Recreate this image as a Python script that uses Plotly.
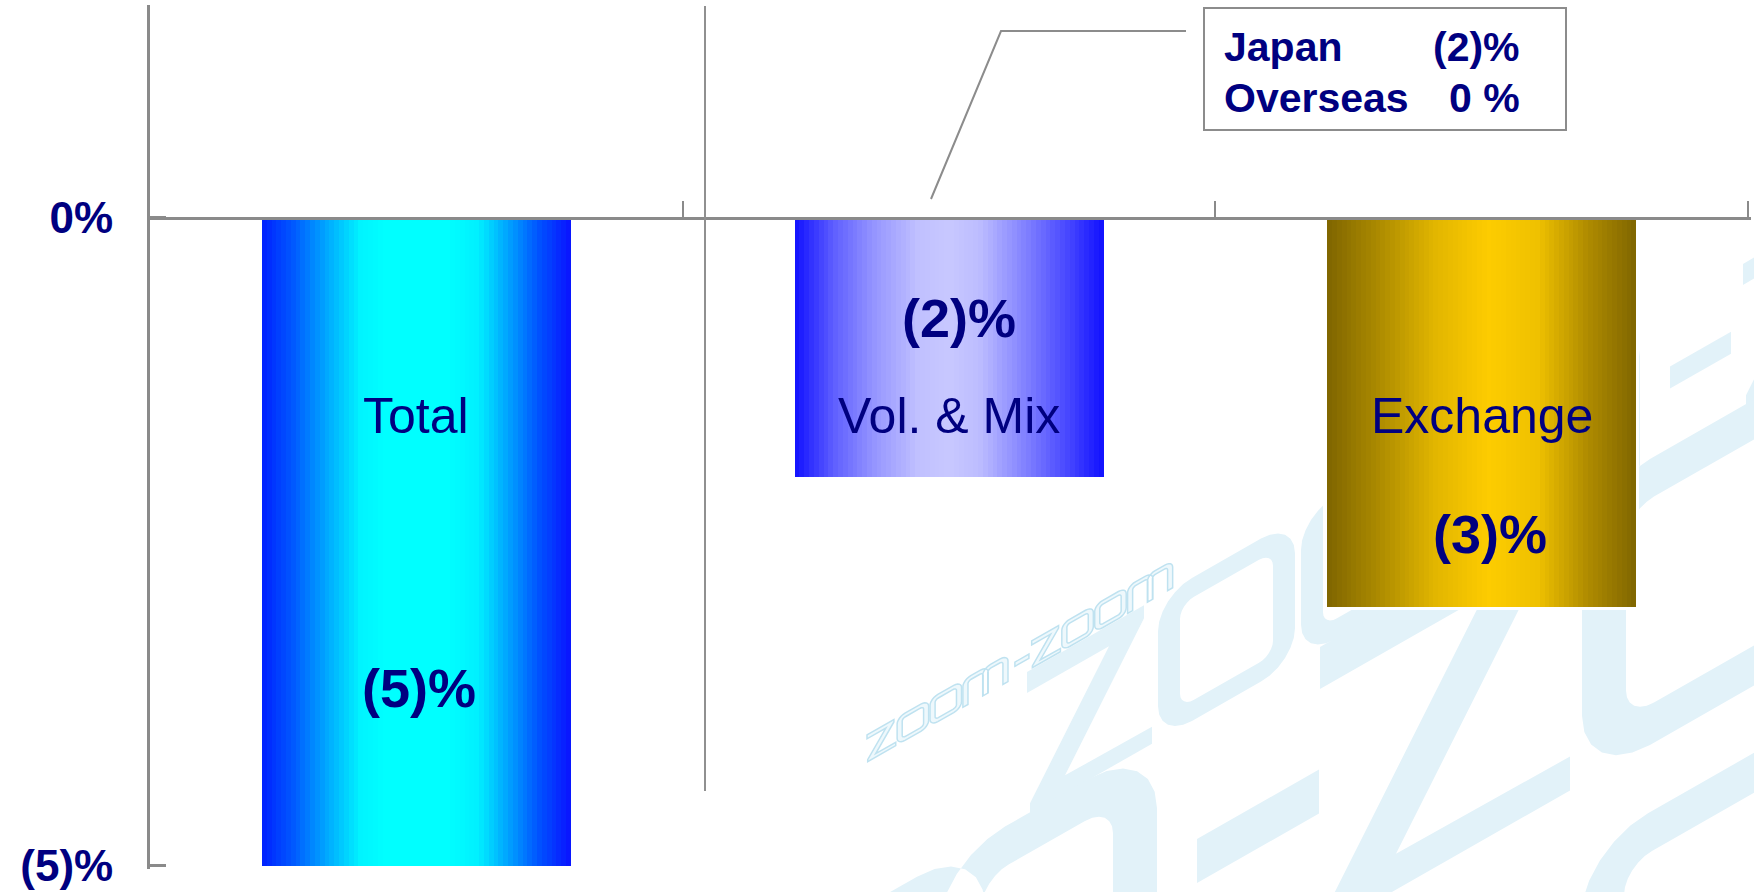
import plotly.graph_objects as go

# ---- data -------------------------------------------------------------
categories = ["Total", "Vol. & Mix", "Exchange"]
values = [-5, -2, -3]
tick_values = [-5, 0]
tick_labels = ["(5)%", "0%"]
regions = ["Japan", "Overseas"]
region_values = [-2, 0]

# ---- page geometry ----------------------------------------------------
W, H = 1754, 892
ML, MR, MT, MB = 150, 3, 5, 23
PX_PER_UNIT = 129.6                      # vertical scale of the value axis
Y_MAX = 1.643
Y_MIN = Y_MAX - (H - MT - MB) / PX_PER_UNIT   # a hair below -5 so the end tick is kept
CAT_PX = 532.7
X_MAX = 2.5 + (W - MR - (ML + 3 * CAT_PX)) / CAT_PX
BAR_W = 0.58
N_STRIPES = 64

NAVY = "#000080"
AXIS_GREY = "#8a8a8a"
WM_FILL = "#e2f2f9"


def pct(v):
    return f"({abs(v):g})%" if v < 0 else f"{v:g} %"


def PX(x):
    return (x - ML) / (W - ML - MR)


def PY(y):
    return (H - MB - y) / (H - MT - MB)


def hex_rgb(h):
    h = h.lstrip("#")
    return tuple(int(h[i:i + 2], 16) for i in (0, 2, 4))


def sample(stops, t):
    for (t0, c0), (t1, c1) in zip(stops[:-1], stops[1:]):
        if t0 <= t <= t1:
            f = (t - t0) / (t1 - t0) if t1 > t0 else 0
            a, b = hex_rgb(c0), hex_rgb(c1)
            return "rgb(%d,%d,%d)" % tuple(round(a[i] + (b[i] - a[i]) * f) for i in range(3))
    return stops[-1][1]


# horizontal shading of each bar (edge -> centre -> edge)
gradients = [
    [(0, "#0020ff"), (0.1, "#0058ff"), (0.21, "#00a8ff"), (0.32, "#00f4ff"), (0.4, "#00ffff"),
     (0.6, "#00ffff"), (0.7, "#00f0ff"), (0.8, "#00a0ff"), (0.9, "#0050ff"), (1, "#0a12ff")],
    [(0, "#1010ff"), (0.13, "#6060ff"), (0.26, "#9696ff"), (0.4, "#c0c0ff"), (0.5, "#c8c8ff"),
     (0.6, "#bcbcff"), (0.75, "#8080ff"), (0.9, "#4040ff"), (1, "#1010ff")],
    [(0, "#7f6500"), (0.18, "#b08e00"), (0.35, "#e2b600"), (0.52, "#fdcc00"),
     (0.68, "#efc100"), (0.84, "#b08c00"), (1, "#7f6500")],
]

fig = go.Figure()

# white halo keeps the background lettering clear of the bars
fig.add_trace(go.Bar(
    x=categories, y=values, width=BAR_W,
    marker=dict(color="white", line=dict(color="white", width=7)),
    hoverinfo="skip", showlegend=False,
))

# each stripe runs from its left edge to the bar's right edge; later stripes
# overwrite earlier ones, producing a seamless gradient
for k in range(N_STRIPES):
    t = (k + 0.5) / N_STRIPES
    off = -BAR_W / 2 + k * BAR_W / N_STRIPES
    fig.add_trace(go.Bar(
        x=categories, y=values, offset=off, width=BAR_W / 2 - off,
        marker=dict(color=[sample(g, t) for g in gradients], line=dict(width=0)),
        hoverinfo="skip", showlegend=False,
    ))

# ---- background "zoom-zoom" lettering (skewed glyph outlines) ----------
SLOPE = -0.57


def rrect(u0, v0, u1, v1, r, n=6):
    import math
    pts = []
    corners = [(u1 - r, v0 + r, -90), (u1 - r, v1 - r, 0), (u0 + r, v1 - r, 90), (u0 + r, v0 + r, 180)]
    for cx, cy, a0 in corners:
        for i in range(n + 1):
            a = math.radians(a0 + 90 * i / n)
            pts.append((cx + r * math.cos(a), cy + r * math.sin(a)))
    return pts


def arc(cx, cy, r, a0, a1, n=6):
    import math
    return [(cx + r * math.cos(math.radians(a0 + (a1 - a0) * i / n)),
             cy + r * math.sin(math.radians(a0 + (a1 - a0) * i / n))) for i in range(n + 1)]


def n_shape(u0, u1, hgt=143, s=22, t=20, r=34, ri=14):
    pts = [(u0, 0)]
    pts += arc(u0 + r, hgt - r, r, 180, 90)
    pts += arc(u1 - r, hgt - r, r, 90, 0)
    pts += [(u1, 0), (u1 - s, 0)]
    pts += arc(u1 - s - ri, hgt - t - ri, ri, 0, 90)
    pts += arc(u0 + s + ri, hgt - t - ri, ri, 90, 180)
    pts += [(u0 + s, 0)]
    return pts


GLYPHS = {
    "z": [[(0, 143), (117, 143), (117, 130), (38, 18), (125, 17), (125, 0),
           (3, 0), (3, 10), (82, 122), (0, 122)]],
    "o": [rrect(0, 0, 137, 143, 34), rrect(22, 20, 115, 123, 14)[::-1]],
    "m": [n_shape(0, 110), n_shape(86, 196)],
    "-": [[(0, 60), (61, 60), (61, 82), (0, 82)]],
}
ADV = [("z", 0), ("o", 131), ("o", 274), ("m", 417), ("-", 643),
       ("z", 716), ("o", 847), ("o", 990), ("m", 1133)]


def glyph_path(ch, u_off, x0, y0, kx, ky):
    parts = []
    for loop in GLYPHS[ch]:
        pts = []
        for u, v in loop:
            uu = (u + u_off) * kx
            X = x0 + uu
            Y = y0 - ky * v + SLOPE * uu
            pts.append(f"{PX(X):.5f},{PY(Y):.5f}")
        parts.append("M" + " L".join(pts) + " Z")
    return " ".join(parts)


wm_shapes = []


def add_row(seq, x0, y0, kx, ky, fill, line_color=None, line_w=0):
    for ch, u in seq:
        wm_shapes.append(dict(
            type="path", xref="paper", yref="paper", layer="below",
            path=glyph_path(ch, u, x0, y0, kx, ky),
            fillcolor=fill,
            line=dict(color=line_color or fill, width=line_w),
        ))


# large lettering, first line
add_row(ADV[:6] + [("o", 847)], 1027, 815, 1, 1, WM_FILL)
# large lettering, second (double size) line
row2 = [("z", -694.5), ("o", -563.5), ("o", -420.5), ("m", -277.5), ("-", -61.5),
        ("z", 0), ("o", 131), ("o", 274)]
add_row(row2, 1320, 933, 2, 2, WM_FILL)
add_row([("o", 0)], 1580, 1138, 2, 2, WM_FILL)
# small outlined lettering
add_row(ADV, 867, 762, 0.23, 0.19, "#eef8fc", "#bfe2f0", 1.5)

# ---- decorations ----------------------------------------------------
deco = [
    # vertical divider after the first bar
    dict(type="line", xref="paper", yref="paper", layer="above",
         x0=PX(705), x1=PX(705), y0=PY(6), y1=PY(791),
         line=dict(color="#909090", width=2)),
    # callout box
    dict(type="rect", xref="paper", yref="paper", layer="above",
         x0=PX(1204), x1=PX(1566), y0=PY(8), y1=PY(130),
         fillcolor="white", line=dict(color="#8c8c8c", width=2)),
    # leader from the callout to the volume bar
    dict(type="path", xref="paper", yref="paper", layer="above",
         path=f"M{PX(1186):.5f},{PY(31):.5f} L{PX(1001):.5f},{PY(31):.5f} L{PX(931):.5f},{PY(199):.5f}",
         line=dict(color="#8c8c8c", width=2)),
]

# ---- labels -----------------------------------------------------------
BOLD = dict(family="Liberation Sans, Arial, sans-serif", color=NAVY, weight="bold")
REG = dict(family="Liberation Sans, Arial, sans-serif", color=NAVY)

annotations = []
name_y = -1.53
value_y = [-3.63, -0.77, -2.44]
value_dx = [3, 10, 8]
for c, v, vy, dx in zip(categories, values, value_y, value_dx):
    annotations.append(dict(x=c, y=name_y, text=c, showarrow=False,
                            font=dict(REG, size=50)))
    annotations.append(dict(x=c, y=vy, text=pct(v), showarrow=False, xshift=dx,
                            font=dict(BOLD, size=54)))

row_y = [47, 98]
for name, v, yy in zip(regions, region_values, row_y):
    annotations.append(dict(xref="paper", yref="paper", x=PX(1222), y=PY(yy),
                            xanchor="left", yanchor="middle", text=name,
                            showarrow=False, font=dict(BOLD, size=41)))
    annotations.append(dict(xref="paper", yref="paper", x=PX(1522), y=PY(yy),
                            xanchor="right", yanchor="middle", text=pct(v),
                            showarrow=False, font=dict(BOLD, size=41)))

zero_pos = (0 - Y_MIN) / (Y_MAX - Y_MIN)

fig.update_layout(
    width=W, height=H,
    margin=dict(l=ML, r=MR, t=MT, b=MB, autoexpand=False),
    paper_bgcolor="white", plot_bgcolor="rgba(0,0,0,0)",
    barmode="overlay", bargap=0, showlegend=False,
    shapes=wm_shapes + deco,
    annotations=annotations,
    xaxis=dict(
        type="category", range=[-0.5, X_MAX], anchor="free", position=zero_pos,
        showline=True, linecolor=AXIS_GREY, linewidth=3,
        ticks="inside", tickson="boundaries", ticklen=16, tickwidth=2, tickcolor=AXIS_GREY,
        showticklabels=False, showgrid=False, zeroline=False, fixedrange=True,
        automargin=False,
    ),
    yaxis=dict(
        range=[Y_MIN, Y_MAX], showline=True, linecolor=AXIS_GREY, linewidth=3,
        ticks="inside", ticklen=16, tickwidth=3, tickcolor=AXIS_GREY,
        tickmode="array", tickvals=tick_values, ticktext=tick_labels,
        tickfont=dict(BOLD, size=44), ticklabelstandoff=25,
        ticklabeloverflow="allow",
        showgrid=False, zeroline=False, fixedrange=True, automargin=False,
    ),
)

fig.write_html("out.html")
